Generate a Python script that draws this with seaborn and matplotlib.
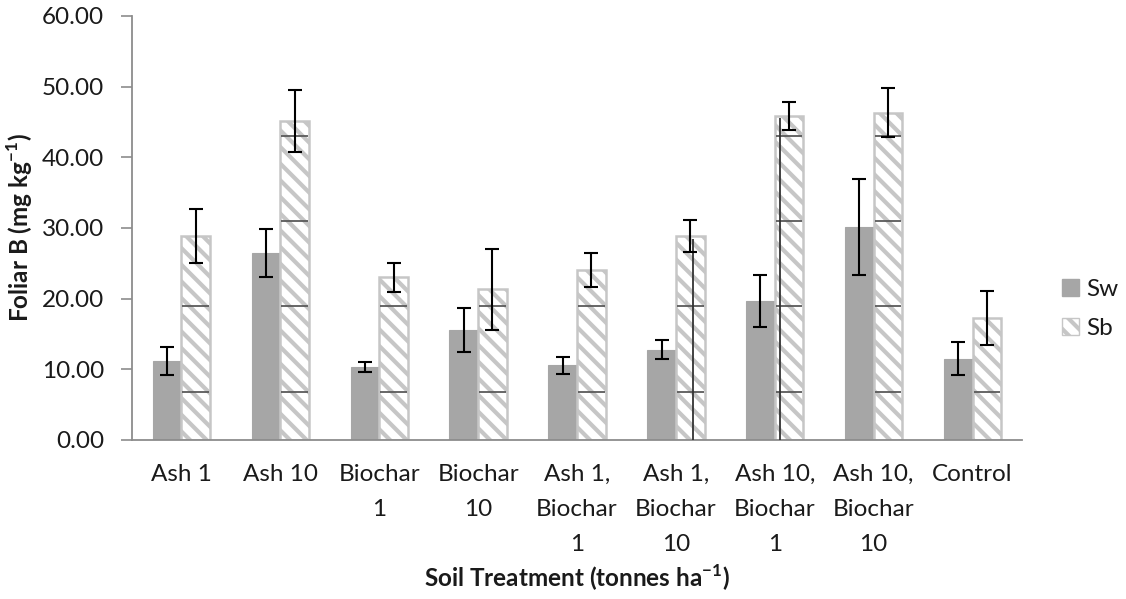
import numpy as np
import pandas as pd
import matplotlib
matplotlib.use("Agg")
import matplotlib.pyplot as plt
from matplotlib.patches import Patch
import seaborn as sns

# ---------------- data ----------------
categories = ["Ash 1", "Ash 10", "Biochar\n1", "Biochar\n10", "Ash 1,\nBiochar\n1",
              "Ash 1,\nBiochar\n10", "Ash 10,\nBiochar\n1", "Ash 10,\nBiochar\n10", "Control"]
series = ["Sw", "Sb"]
sw_values = [11.2, 26.4, 10.3, 15.6, 10.6, 12.8, 19.7, 30.2, 11.5]
sb_values = [28.9, 45.1, 23.0, 21.3, 24.1, 28.9, 45.8, 46.3, 17.3]
sw_err = [2.0, 3.4, 0.7, 3.1, 1.2, 1.4, 3.65, 6.8, 2.3]
sb_err = [3.8, 4.4, 2.05, 5.7, 2.4, 2.3, 2.0, 3.45, 3.8]
# stray lower whiskers visible in the original chart (drawn from 0 up to this value)
sb_stray_top = [0, 0, 0, 0, 0, 28.5, 45.5, 0, 0]
sb_stray_frac = [0.5, 0.5, 0.5, 0.5, 0.5, 0.6, 0.17, 0.5, 0.5]
# pattern seam lines seen inside the hatched bars
seam_levels = [6.8, 18.9, 31.0, 43.0]
yticks = [0, 10, 20, 30, 40, 50, 60]

df = pd.DataFrame({
    "Treatment": categories * 2,
    "Species": ["Sw"] * len(categories) + ["Sb"] * len(categories),
    "Value": sw_values + sb_values,
})

# ---------------- style ----------------
sns.set_style("white")
plt.rcParams["font.family"] = ["Lato", "DejaVu Sans"]
plt.rcParams["mathtext.fontset"] = "custom"
plt.rcParams["mathtext.rm"] = "Lato"
plt.rcParams["mathtext.bf"] = "Lato:bold"
plt.rcParams["hatch.linewidth"] = 3.0

TXT = "#1a1a1a"
AXC = "#8c8c8c"
SW_C = "#a6a6a6"
HATCH_C = "#c6c6c6"
FS = 17.5

fig = plt.figure(figsize=(11.26, 5.99), dpi=100)
ax = fig.add_axes([132 / 1126, 1 - 440 / 599, (1022 - 132) / 1126, (440 - 16) / 599])

sns.barplot(data=df, x="Treatment", y="Value", hue="Species", order=categories,
            hue_order=series, palette=[SW_C, "white"], width=0.58, errorbar=None,
            ax=ax, legend=False, saturation=1)

sw_bars = ax.containers[0]
sb_bars = ax.containers[1]
for p in sw_bars:
    p.set_facecolor(SW_C)
    p.set_edgecolor(SW_C)
    p.set_linewidth(0.8)
for p in sb_bars:
    p.set_facecolor("white")
    p.set_hatch("\\\\")
    p.set_edgecolor(HATCH_C)
    p.set_linewidth(1.8)

sw_x = [p.get_x() + p.get_width() / 2 for p in sw_bars]
sb_x = [p.get_x() + p.get_width() / 2 for p in sb_bars]

# seam lines inside hatched bars
for p, h in zip(sb_bars, sb_values):
    for lv in seam_levels:
        if lv < h:
            ax.hlines(lv, p.get_x() + 0.01, p.get_x() + p.get_width() - 0.01,
                      color="#5a5a5a", lw=1.3, zorder=4)

# stray vertical lines
for p, top, fr in zip(sb_bars, sb_stray_top, sb_stray_frac):
    if top > 0:
        xx = p.get_x() + p.get_width() * fr
        ax.vlines(xx, 0, top, color="#333333", lw=1.3, zorder=4)

ax.errorbar(sw_x, sw_values, yerr=sw_err, fmt="none", ecolor="black",
            elinewidth=1.5, capsize=4.8, capthick=1.5, zorder=5)
ax.errorbar(sb_x, sb_values, yerr=sb_err, fmt="none", ecolor="black",
            elinewidth=1.5, capsize=4.8, capthick=1.5, zorder=5)

# axes
ax.set_ylim(0, 60)
ax.set_xlim(-0.5, len(categories) - 0.5)
ax.set_yticks(yticks)
ax.set_yticklabels([f"{v:.2f}" for v in yticks], fontsize=FS, color=TXT)
ax.set_xticks(range(len(categories)))
ax.set_xticklabels(categories, fontsize=FS, color=TXT, linespacing=1.83)
ax.set_xticks(np.arange(-0.5, len(categories), 1.0), minor=True)
ax.tick_params(axis="x", which="major", length=0, pad=17)
ax.tick_params(axis="x", which="minor", length=7, width=1.2, color=AXC, direction="out")
ax.tick_params(axis="y", which="major", length=8, width=1.2, color=AXC, direction="out",
               left=True, pad=12)

for s in ["top", "right"]:
    ax.spines[s].set_visible(False)
for s in ["left", "bottom"]:
    ax.spines[s].set_color(AXC)
    ax.spines[s].set_linewidth(1.3)

ax.set_xlabel(r"Soil Treatment (tonnes ha$^{\mathbf{-1}}$)", fontsize=FS,
              fontweight="bold", color=TXT, labelpad=6)
ax.set_ylabel(r"Foliar B (mg kg$^{\mathbf{-1}}$)", fontsize=FS,
              fontweight="bold", color=TXT, labelpad=5)

handles = [Patch(facecolor=SW_C, edgecolor=SW_C),
           Patch(facecolor="white", edgecolor=HATCH_C, hatch="\\\\")]
fig.legend(handles, series, loc="center left", bbox_to_anchor=(1062 / 1126, 1 - 309 / 599),
           frameon=False, fontsize=FS, handlelength=0.7, handleheight=0.7,
           handletextpad=0.3, labelspacing=0.75, labelcolor=TXT,
           borderpad=0, borderaxespad=0)

fig.savefig("out.png", dpi=100)
